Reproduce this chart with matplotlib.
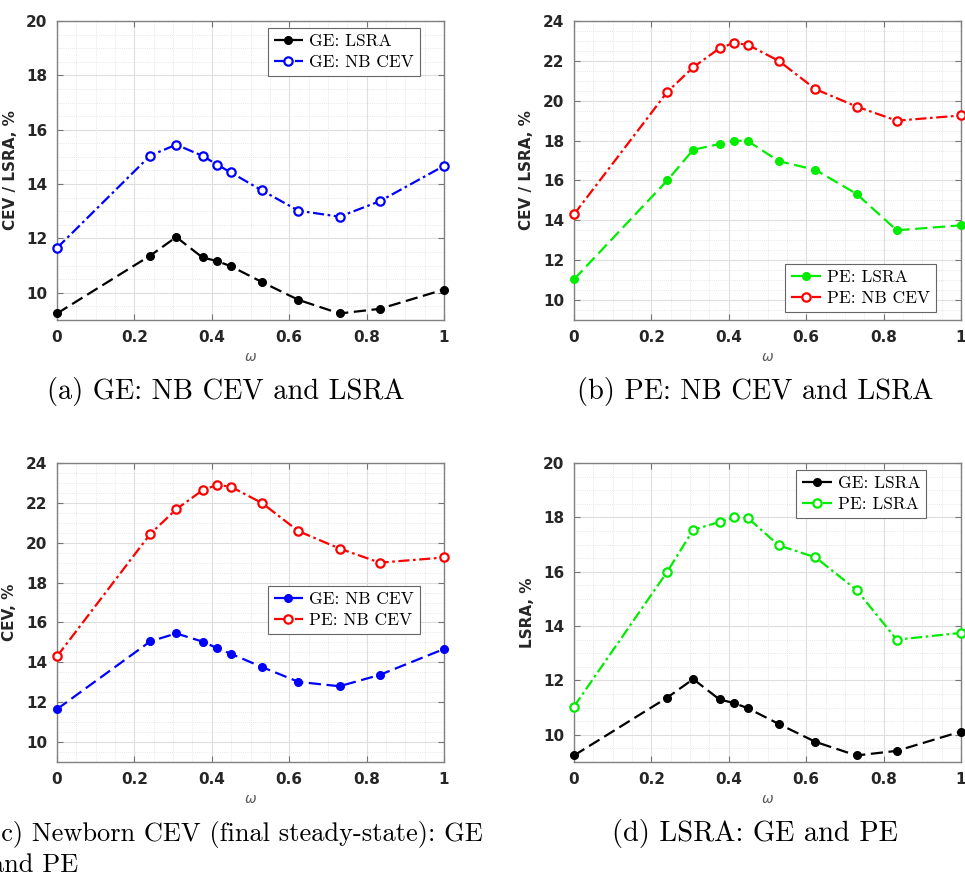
import numpy as np
import matplotlib.pyplot as plt
from matplotlib.ticker import MultipleLocator

omega = [0, 0.241, 0.308, 0.376, 0.413, 0.449, 0.529, 0.624, 0.730, 0.834, 1.0]

ge_lsra = [9.24, 11.37, 12.05, 11.30, 11.17, 10.98, 10.40, 9.74, 9.24, 9.41, 10.12]
ge_cev = [11.65, 15.05, 15.45, 15.04, 14.72, 14.43, 13.77, 13.02, 12.80, 13.37, 14.67]
pe_lsra = [11.04, 16.0, 17.54, 17.83, 18.0, 17.98, 16.97, 16.53, 15.33, 13.5, 13.75]
pe_cev = [14.30, 20.44, 21.68, 22.63, 22.9, 22.81, 22.0, 20.58, 19.71, 19.0, 19.26]

captions = ["(a) GE: NB CEV and LSRA",
            "(b) PE: NB CEV and LSRA",
            "(c) Newborn CEV (final steady-state): GE\nand PE",
            "(d) LSRA: GE and PE"]

GREEN = (0.0, 0.93, 0.0)
grey = '0.15'

fig = plt.figure(figsize=(9.65, 8.76), dpi=100)

W, H = 965.0, 876.0
boxes = [(57, 21), (574, 21), (57, 463), (574, 463)]
axs = []
for (l, t) in boxes:
    ax = fig.add_axes([l / W, 1 - (t + 299) / H, 387 / W, 299 / H])
    axs.append(ax)


def dashed(ax, y, c, label):
    ax.plot(omega, y, ls=(0, (5.5, 2.5)), color=c, lw=1.6, marker='o', ms=5.5,
            mfc=c, mec=c, label=label, clip_on=False, zorder=3)


def dashdot(ax, y, c, label):
    ax.plot(omega, y, ls=(0, (5, 1.6, 1.2, 1.6)), color=c, lw=1.6, marker='o',
            ms=6, mfc='white', mec=c, mew=1.6, label=label, clip_on=False,
            zorder=3)


dashed(axs[0], ge_lsra, 'black', 'GE: LSRA')
dashdot(axs[0], ge_cev, 'blue', 'GE: NB CEV')
dashed(axs[1], pe_lsra, GREEN, 'PE: LSRA')
dashdot(axs[1], pe_cev, 'red', 'PE: NB CEV')
dashed(axs[2], ge_cev, 'blue', 'GE: NB CEV')
dashdot(axs[2], pe_cev, 'red', 'PE: NB CEV')
dashed(axs[3], ge_lsra, 'black', 'GE: LSRA')
dashdot(axs[3], pe_lsra, GREEN, 'PE: LSRA')

ylims = [(9, 20), (9, 24), (9, 24), (9, 20)]
ylabels = ['CEV / LSRA, %', 'CEV / LSRA, %', 'CEV, %', 'LSRA, %']
for ax, yl, lab in zip(axs, ylims, ylabels):
    ax.set_xlim(0, 1)
    ax.set_ylim(*yl)
    ax.set_xticks([0, 0.2, 0.4, 0.6, 0.8, 1])
    ax.set_xticklabels(['0', '0.2', '0.4', '0.6', '0.8', '1'])
    ax.set_yticks(np.arange(10, yl[1] + 1, 2))
    ax.xaxis.set_minor_locator(MultipleLocator(0.05))
    ax.yaxis.set_minor_locator(MultipleLocator(0.5))
    ax.grid(which='major', color='0.87', lw=0.8)
    ax.grid(which='minor', color='0.88', lw=0.6, ls=(0, (1, 1.5)))
    ax.set_axisbelow(True)
    ax.tick_params(which='major', direction='in', length=4, top=True,
                   right=True, labelsize=11, colors='0.45', labelcolor=grey,
                   pad=7)
    ax.tick_params(which='minor', length=0)
    for lbl in ax.get_xticklabels() + ax.get_yticklabels():
        lbl.set_fontweight('bold')
    for s in ax.spines.values():
        s.set_color('0.5')
        s.set_linewidth(1)
    ax.set_ylabel(lab, fontsize=11, fontweight='bold', color=grey, labelpad=6)
    ax.set_xlabel(r'$\omega$', fontsize=10, color='0.35', labelpad=4)

leg_kw = dict(prop={'family': 'cmr10', 'size': 12.5}, fancybox=False,
              edgecolor='0.4', framealpha=1, handlelength=1.7,
              borderpad=0.35, labelspacing=0.3, handletextpad=0.35,
              borderaxespad=0)
axs[0].legend(loc='upper right', bbox_to_anchor=(0.938, 0.977), **leg_kw)
axs[1].legend(loc='lower right', bbox_to_anchor=(0.935, 0.027), **leg_kw)
axs[2].legend(loc='lower right', bbox_to_anchor=(0.938, 0.428), **leg_kw)
axs[3].legend(loc='upper right', bbox_to_anchor=(0.910, 0.977), **leg_kw)
for ax in axs:
    ax.get_legend().get_frame().set_linewidth(0.8)

cap_kw = dict(fontsize=20.5, family='cmr10', ha='center', va='center')
fig.text(226 / W, 1 - 392 / H, captions[0], **cap_kw)
fig.text(755 / W, 1 - 392 / H, captions[1], **cap_kw)
# caption (c) runs off the left edge in the source image as well
fig.text(-9 / W, 1 - 849 / H, captions[2], fontsize=19, family='cmr10',
         ha='left', va='center', linespacing=1.3)
fig.text(755 / W, 1 - 833 / H, captions[3], **cap_kw)

fig.savefig('out.png', dpi=100)
